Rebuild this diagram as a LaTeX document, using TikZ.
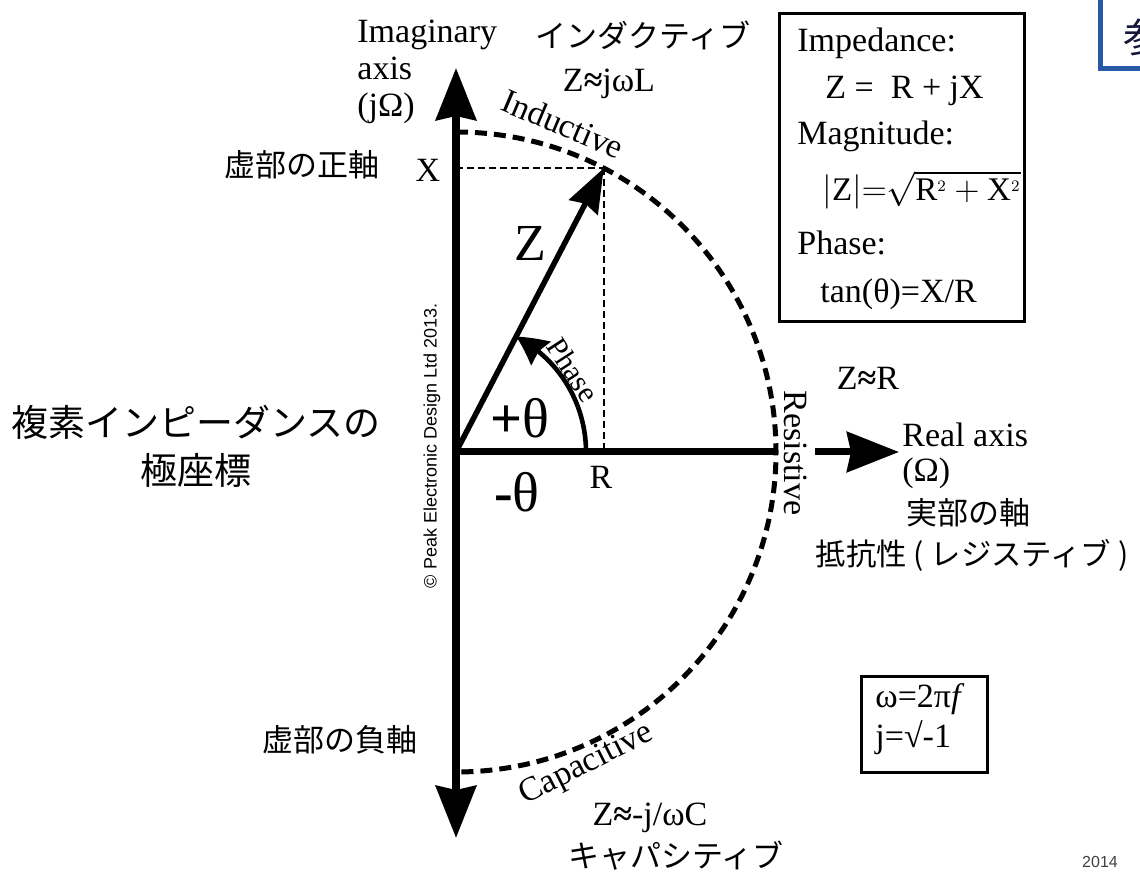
\documentclass[tikz,border=0pt]{standalone}
\usepackage{fontspec}
\usepackage{amsmath}
\setmainfont{Liberation Serif}
\setsansfont{Liberation Sans}
\newfontfamily\jpfont{Noto Sans CJK JP}
\usetikzlibrary{arrows.meta, calc, bending}
\definecolor{tagblue}{RGB}{42,88,168}
\definecolor{tagink}{RGB}{22,22,58}

\begin{document}
\begin{tikzpicture}[x=0.5pt, y=0.5pt,
  bigtip/.tip={Stealth[length=26pt, width=20pt, inset=2pt]},
  axis/.style={line width=4pt},
  vec/.style={line width=2.75pt, -{Stealth[length=22pt, width=16pt, inset=2pt]}},
  phasearc/.style={line width=2.3pt, -{Stealth[length=15pt, width=15pt, inset=1.5pt, bend]}},
  dasharc/.style={line width=2.5pt, dash pattern=on 6pt off 3.5pt},
  guide/.style={line width=1pt, dash pattern=on 3.5pt off 2pt},
  box/.style={line width=1.5pt},
  lbl/.style={font=\fontsize{17}{18.5}\selectfont, inner sep=0pt},
  jp/.style={font=\jpfont\fontsize{15.5}{19}\selectfont, inner sep=0pt}]
  % Page
  \fill[white] (0,0) rectangle (1140,873);
  \useasboundingbox (0,0) rectangle (1140,873);
  \clip (0,0) rectangle (1140,873);
  % Axes
  \coordinate (O) at (456,421);
  \coordinate (top) at (456,805);
  \coordinate (bot) at (456,35);
  \coordinate (right) at (899,421);
  \coordinate (Ztip) at ($(O)+(62.5:320)$);
  \draw[axis, bigtip-bigtip] (bot) -- (top);
  \draw[axis, line width=3.5pt, -bigtip] (O) -- (right);
  \node[lbl, rotate=-90, fill=white, inner ysep=4pt] (res) at (796,420) {Resistive};
  % Locus of Z
  \draw[dasharc] ($(O)+(0,320)$) arc[start angle=90, end angle=-90, radius=320];
  % Projections
  \draw[guide] (O |- Ztip) -- (Ztip);
  \draw[guide] (Ztip) -- (Ztip |- O);
  % Vector and phase
  \draw[vec] (O) -- (Ztip);
  \draw[phasearc] ($(O)+(130,0)$) arc[start angle=0, end angle=62.5, radius=130];
  % Axis labels
  \node[lbl, anchor=base west] (imag) at (357,830) {Imaginary};
  \node[lbl, anchor=base west] (imag2) at (357,793) {axis};
  \node[lbl, anchor=base west] (imag3) at (357,756) {(jΩ)};
  \node[lbl, anchor=base west] (real) at (902,426) {Real axis};
  \node[lbl, anchor=base west] (real2) at (902,391) {(Ω)};
  \node[lbl] (xlbl) at (428,703) {X};
  \node[lbl] (rlbl) at (601,396) {R};
  \node[font=\fontsize{26}{30}\selectfont, inner sep=0pt] (zlbl) at (530,630) {Z};
  \node[font=\fontsize{15}{18}\selectfont, inner sep=0pt, rotate=-57] (phase) at (573,503) {Phase};
  \node[font=\fontsize{28}{30}\selectfont, inner sep=0pt] (plus) at (520,455) {\textbf{+}θ};
  \node[font=\fontsize{28}{30}\selectfont, inner sep=0pt] (minus) at (517,381) {\textbf{-}θ};
  % Regions
  \node[lbl, rotate=-23] (ind) at (563,749) {Inductive};
  \node[lbl, rotate=27] (cap) at (587,108) {Capacitive};
  \node[lbl, anchor=base] (zl) at (609,781) {Z\textbf{≈}jωL};
  \node[lbl] (zr) at (868,495) {Z\textbf{≈}R};
  \node[lbl] (zc) at (650,55) {Z\textbf{≈}-j/ωC};
  % Japanese notes
  \node[jp] (indjp) at (643,838) {インダクティブ};
  \node[jp] (posjp) at (302,708) {虚部の正軸};
  \node[jp] (negjp) at (340,133) {虚部の負軸};
  \node[jp] (capjp) at (676,17) {キャパシティブ};
  \node[jp] (realjp) at (968,360) {実部の軸};
  \node[jp, font=\jpfont\fontsize{15.2}{18}\selectfont] (resjp) at (972,318) {抵抗性 ( レジスティブ )};
  \node[jp, font=\jpfont\fontsize{18.5}{24}\selectfont, align=center] (title) at (196,427) {複素インピーダンスの\\極座標};
  % Formula box
  \draw[box] (779,859) rectangle (1024,551);
  \node[lbl, anchor=base west] (imp) at (797,821) {Impedance:};
  \node[lbl, anchor=base west] (impf) at (825,774) {Z = ~R + jX};
  \node[lbl, anchor=base west] (mag) at (797,728) {Magnitude:};
  \node[lbl, font=\fontsize{16.5}{18}\selectfont, anchor=base west] (magf) at (822,672) {$|\mathrm{Z}|{=}\sqrt{\mathrm{R}^{\scriptscriptstyle 2}+\mathrm{X}^{\scriptscriptstyle 2}}$};
  \node[lbl, anchor=base west] (pha) at (797,618) {Phase:};
  \node[lbl, anchor=base west] (phaf) at (820,570) {tan(θ)=X/R};
  % Definitions box
  \draw[box] (861,196) rectangle (987,101);
  \node[lbl, anchor=base west] (omg) at (875,165) {ω=2π\textit{f}};
  \node[lbl, anchor=base west] (jdef) at (875,126) {j=√-1};
  % Credits
  \node[font=\sffamily\fontsize{9}{10}\selectfont, inner sep=0pt, rotate=90] (copy) at (432,427) {© Peak Electronic Design Ltd 2013.};
  \node[font=\sffamily\fontsize{8}{9}\selectfont, inner sep=0pt, text=black!75] (year) at (1100,11) {2014};
  % Cut tag
  \draw[tagblue, line width=2.5pt] (1100,804) rectangle (1220,900);
  \node[font=\jpfont\fontsize{20}{20}\selectfont, text=tagink, inner sep=0pt] (tag) at (1143,836) {参};
\end{tikzpicture}
\end{document}
